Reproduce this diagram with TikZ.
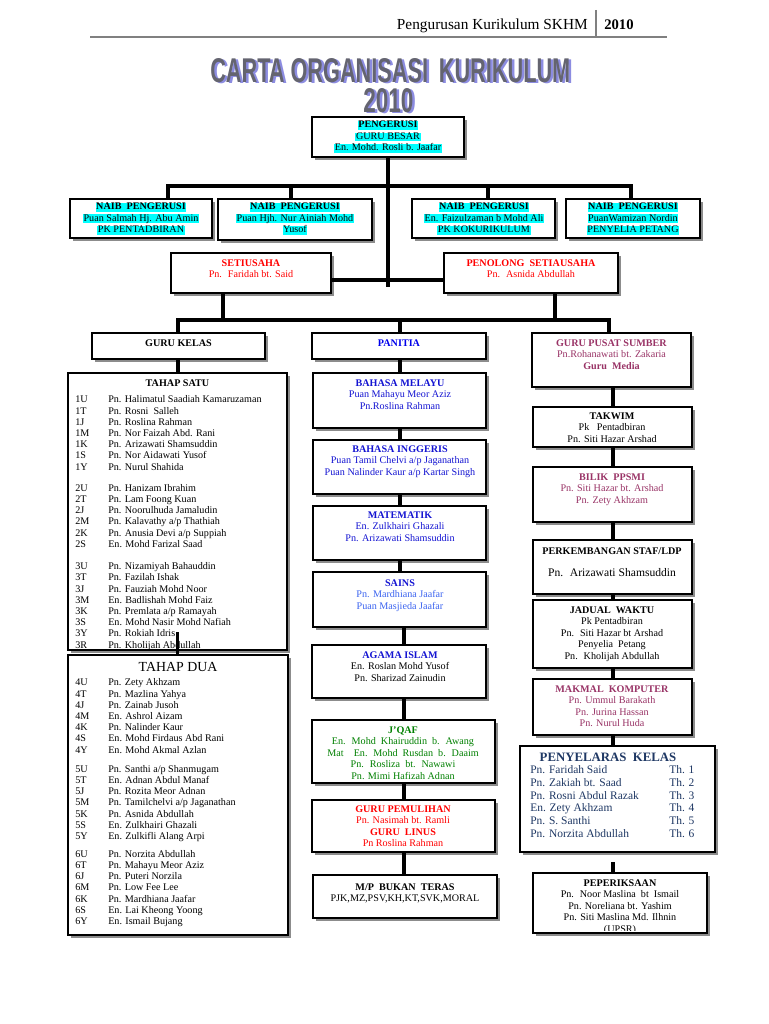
\documentclass[tikz,border=0pt]{standalone}
\usepackage{fontspec}
\setmainfont{Liberation Serif}
\newfontfamily\sansf{Liberation Sans}
\usetikzlibrary{shadows}
\definecolor{hlcyan}{RGB}{0,255,255}
\definecolor{sred}{RGB}{255,0,0}
\definecolor{pblue}{RGB}{0,0,235}
\definecolor{nblue}{RGB}{20,20,210}
\definecolor{lblue}{RGB}{60,100,240}
\definecolor{maroon}{RGB}{153,51,102}
\definecolor{jgreen}{RGB}{0,128,0}
\definecolor{navy}{RGB}{31,56,100}
\definecolor{hdrgrey}{RGB}{128,128,128}
\definecolor{ttlgrey}{RGB}{100,100,112}
\definecolor{ttlshadow}{RGB}{140,140,225}
\setlength{\fboxsep}{0pt}
\newcommand{\hl}[1]{\colorbox{hlcyan}{\rule[-1.6pt]{0pt}{6.4pt}\kern0.5pt#1\kern0.5pt}}
\newcommand{\cls}[2]{\makebox[24.75pt][l]{#1}#2}
\newcommand{\tk}[2]{\makebox[104.25pt][l]{#1}#2}
\newcommand{\wordart}[3]{\rlap{\kern1.9pt\raisebox{-1.1pt}{\textcolor{ttlshadow}{\resizebox{#1}{#2}{\sansf\bfseries #3}}}}\textcolor{ttlgrey}{\resizebox{#1}{#2}{\sansf\bfseries #3}}}
\newcommand{\obox}[5]{\node[box, minimum width={(#4-#2)*0.75pt}, minimum height={(#5-#3)*0.75pt}] (#1) at (#2,#3) {};}
\tikzset{
  box/.style={draw=black, line width=0.8pt, fill=white, inner sep=0pt, outer sep=0pt, anchor=north west,
    drop shadow={shadow xshift=2pt, shadow yshift=-2pt, fill=black!45, opacity=1}},
  txt/.style={inner sep=0pt, align=center, anchor=north, font=\fontsize{7.6}{8.6}\selectfont},
  rows/.style={inner sep=0pt, align=left, anchor=north west, font=\fontsize{7.6}{8.4}\selectfont},
  conn/.style={draw=black, line width=2.4pt, line join=miter},
}
\begin{document}
\begin{tikzpicture}[x=0.75pt, y=-0.75pt]
\useasboundingbox (0,0) rectangle (768,1024);
\fill[white] (0,0) rectangle (768,1024);

% header
\node[anchor=base east, inner sep=0pt, font=\fontsize{11.5}{13}\selectfont] (hdr) at (588,30) {Pengurusan Kurikulum SKHM};
\node[anchor=base west, inner sep=0pt, font=\fontsize{11}{13}\selectfont\bfseries] (hdryear) at (604,30) {2010};
\coordinate (hbarT) at (596,10); \coordinate (hbarB) at (596,37);
\draw[hdrgrey, line width=1.5pt] (hbarT) -- (hbarB);
\coordinate (hlL) at (90,37); \coordinate (hlR) at (667,37);
\draw[hdrgrey, line width=2pt] (hlL) -- (hlR);

% title
\node[inner sep=0pt, anchor=base west] (ttl) at (210,82) {\wordart{270pt}{18pt}{CARTA ORGANISASI\hspace{0.5em}KURIKULUM}};
\node[inner sep=0pt, anchor=base west] (yr) at (363,112) {\wordart{37.5pt}{18pt}{2010}};

% top
\obox{peng}{312}{117}{464}{157}
\node[txt] (pengt) at (388,120.8) {\hl{\textbf{PENGERUSI}}\\\hl{GURU BESAR}\\\hl{En. Mohd. Rosli b. Jaafar}};

\obox{naib1}{70}{199}{212}{238}
\node[txt] (naib1t) at (141,202.8) {\hl{\textbf{NAIB~ PENGERUSI}}\\\hl{Puan Salmah Hj. Abu Amin}\\\hl{PK PENTADBIRAN}};
\obox{naib2}{218}{199}{372}{240}
\node[txt] (naib2t) at (295,202.8) {\hl{\textbf{NAIB~ PENGERUSI}}\\\hl{Puan Hjh. Nur Ainiah Mohd}\\\hl{Yusof}};
\obox{naib3}{412}{199}{555}{238}
\node[txt] (naib3t) at (484,202.8) {\hl{\textbf{NAIB~ PENGERUSI}}\\\hl{En. Faizulzaman b Mohd Ali}\\\hl{PK KOKURIKULUM}};
\obox{naib4}{566}{199}{700}{238}
\node[txt] (naib4t) at (633,202.8) {\hl{\textbf{NAIB~ PENGERUSI}}\\\hl{PuanWamizan Nordin}\\\hl{PENYELIA PETANG}};

\obox{setia}{171}{253}{331}{293}
\node[txt, text=sred] (setiat) at (251,259.5) {\textbf{SETIUSAHA}\\Pn.~ Faridah bt. Said};
\obox{penol}{444}{253}{618}{293}
\node[txt, text=sred] (penolt) at (531,259.5) {\textbf{PENOLONG~ SETIAUSAHA}\\Pn.~ Asnida Abdullah};

\obox{gk}{92}{333}{265}{359}
\node[txt] (gkt) at (178.5,339.5) {\textbf{GURU KELAS}};
\obox{pan}{312}{333}{486}{359}
\node[txt, text=pblue] (pant) at (399,339.5) {\textbf{PANITIA}};
\obox{pusat}{532}{333}{691}{387}
\node[txt, text=maroon] (pusatt) at (611.5,339.5) {\textbf{GURU PUSAT SUMBER}\\Pn.Rohanawati bt. Zakaria\\\textbf{Guru~ Media}};

% left column
\obox{satu}{68}{373}{287}{650}
\node[txt] (satut) at (177.5,379.5) {\textbf{TAHAP SATU}};
\node[rows] (satul) at (75,395.5) {%
\cls{1U}{Pn. Halimatul Saadiah Kamaruzaman}\\
\cls{1T}{Pn. Rosni~ Salleh}\\
\cls{1J}{Pn. Roslina Rahman}\\
\cls{1M}{Pn. Nor Faizah Abd. Rani}\\
\cls{1K}{Pn. Arizawati Shamsuddin}\\
\cls{1S}{Pn. Nor Aidawati Yusof}\\
\cls{1Y}{Pn. Nurul Shahida}\\[7.5pt]
\cls{2U}{Pn. Hanizam Ibrahim}\\
\cls{2T}{Pn. Lam Foong Kuan}\\
\cls{2J}{Pn. Noorulhuda Jamaludin}\\
\cls{2M}{Pn. Kalavathy a/p Thathiah}\\
\cls{2K}{Pn. Anusia Devi a/p Suppiah}\\
\cls{2S}{En. Mohd Farizal Saad}\\[8.5pt]
\cls{3U}{Pn. Nizamiyah Bahauddin}\\
\cls{3T}{Pn. Fazilah Ishak}\\
\cls{3J}{Pn. Fauziah Mohd Noor}\\
\cls{3M}{En. Badlishah Mohd Faiz}\\
\cls{3K}{Pn. Premlata a/p Ramayah}\\
\cls{3S}{En. Mohd Nasir Mohd Nafiah}\\
\cls{3Y}{Pn. Rokiah Idris}\\
\cls{3R}{Pn. Kholijah Abdullah}};

\obox{dua}{68}{655}{288}{935}
\node[txt, font=\fontsize{10.4}{12}\selectfont] (duat) at (178,662.4) {TAHAP DUA};
\node[rows] (dual) at (75,678.5) {%
\cls{4U}{Pn. Zety Akhzam}\\
\cls{4T}{Pn. Mazlina Yahya}\\
\cls{4J}{Pn. Zainab Jusoh}\\
\cls{4M}{En. Ashrol Aizam}\\
\cls{4K}{Pn. Nalinder Kaur}\\
\cls{4S}{En. Mohd Firdaus Abd Rani}\\
\cls{4Y}{En. Mohd Akmal Azlan}\\[6pt]
\cls{5U}{Pn. Santhi a/p Shanmugam}\\
\cls{5T}{En. Adnan Abdul Manaf}\\
\cls{5J}{Pn. Rozita Meor Adnan}\\
\cls{5M}{Pn. Tamilchelvi a/p Jaganathan}\\
\cls{5K}{Pn. Asnida Abdullah}\\
\cls{5S}{En. Zulkhairi Ghazali}\\
\cls{5Y}{En. Zulkifli Alang Arpi}\\[5pt]
\cls{6U}{Pn. Norzita Abdullah}\\
\cls{6T}{Pn. Mahayu Meor Aziz}\\
\cls{6J}{Pn. Puteri Norzila}\\
\cls{6M}{Pn. Low Fee Lee}\\
\cls{6K}{Pn. Mardhiana Jaafar}\\
\cls{6S}{En. Lai Kheong Yoong}\\
\cls{6Y}{En. Ismail Bujang}};

% middle column
\obox{bm}{313}{373}{486}{428}
\node[txt, text=nblue] (bmt) at (400,379.5) {\textbf{BAHASA MELAYU}\\Puan Mahayu Meor Aziz\\Pn.Roslina Rahman};
\obox{bi}{313}{440}{486}{494}
\node[txt, text=nblue] (bit) at (400,445.5) {\textbf{BAHASA INGGERIS}\\Puan Tamil Chelvi a/p Jaganathan\\Puan Nalinder Kaur a/p Kartar Singh};
\obox{mt}{313}{506}{486}{560}
\node[txt, text=nblue] (mtt) at (400,511.5) {\textbf{MATEMATIK}\\En. Zulkhairi Ghazali\\Pn. Arizawati Shamsuddin};
\obox{sains}{313}{572}{486}{627}
\node[txt, text=lblue] (sainst) at (400,579.5) {\textcolor{nblue}{\textbf{SAINS}}\\Pn. Mardhiana Jaafar\\Puan Masjieda Jaafar};
\obox{agama}{312}{645}{486}{698}
\node[txt] (agamat) at (400,651.5) {\textcolor{nblue}{\textbf{AGAMA ISLAM}}\\En. Roslan Mohd Yusof\\Pn. Sharizad Zainudin};
\obox{jqaf}{312}{720}{495}{783}
\node[txt, text=jgreen] (jqaft) at (403,726.5) {\textbf{J'QAF}\\En.~ Mohd~ Khairuddin~ b.~ Awang\\Mat~~~ En.~ Mohd~ Rusdan~ b.~ Daaim\\Pn.~ Rosliza~ bt.~ Nawawi\\Pn. Mimi Hafizah Adnan};
\obox{pem}{312}{800}{495}{852}
\node[txt, text=sred] (pemt) at (403,805.5) {\textbf{GURU PEMULIHAN}\\Pn. Nasimah bt. Ramli\\\textbf{GURU~ LINUS}\\Pn Roslina Rahman};
\obox{mp}{313}{875}{497}{918}
\node[txt] (mpt) at (405,883.5) {\textbf{M/P~ BUKAN~ TERAS}\\PJK,MZ,PSV,KH,KT,SVK,MORAL};

% right column
\obox{takwim}{533}{407}{692}{447}
\node[txt] (takwimt) at (612,412.5) {\textbf{TAKWIM}\\Pk~~ Pentadbiran\\Pn. Siti Hazar Arshad};
\obox{ppsmi}{533}{467}{692}{522}
\node[txt, text=maroon] (ppsmit) at (612,473.5) {\textbf{BILIK~ PPSMI}\\Pn. Siti Hazar bt. Arshad\\Pn. Zety Akhzam};
\obox{perk}{533}{540}{692}{594}
\node[txt] (perkt) at (612,547.5) {\textbf{PERKEMBANGAN STAF/LDP}};
\node[txt, anchor=center, font=\fontsize{8.7}{10}\selectfont] (perkn) at (612,573) {Pn.~ Arizawati Shamsuddin};
\obox{jadual}{533}{600}{692}{668}
\node[txt] (jadualt) at (612,606.5) {\textbf{JADUAL~ WAKTU}\\Pk Pentadbiran\\Pn.~ Siti Hazar bt Arshad\\Penyelia~ Petang\\Pn.~ Kholijah Abdullah};
\obox{makmal}{533}{679}{692}{735}
\node[txt, text=maroon] (makmalt) at (612,685.5) {\textbf{MAKMAL~ KOMPUTER}\\Pn. Ummul Barakath\\Pn. Jurina Hassan\\Pn. Nurul Huda};
\obox{pk}{520}{746}{715}{852}
\node[txt, text=navy, font=\fontsize{9.6}{11}\selectfont] (pkt) at (608,752.8) {\textbf{PENYELARAS~ KELAS}};
\node[rows, text=navy, font=\fontsize{8.6}{9.6}\selectfont] (pkl) at (530,765.2) {%
\tk{Pn. Faridah Said}{Th. 1}\\
\tk{Pn. Zakiah bt. Saad}{Th. 2}\\
\tk{Pn. Rosni Abdul Razak}{Th. 3}\\
\tk{En. Zety Akhzam}{Th. 4}\\
\tk{Pn. S. Santhi}{Th. 5}\\
\tk{Pn. Norzita Abdullah}{Th. 6}};
\obox{exam}{533}{873}{707}{933}
\begin{scope}
\clip (533,873) rectangle (707,930);
\node[txt] (examt) at (620,879.5) {\textbf{PEPERIKSAAN}\\Pn.~ Noor Maslina~ bt~ Ismail\\Pn. Noreliana bt. Yashim\\Pn. Siti Maslina Md. Ilhnin\\(UPSR)};
\end{scope}

% connectors
\coordinate (trunk) at (388,287);
\draw[conn] (peng.south) -- (trunk);
\coordinate (nb1) at (168,186); \coordinate (nb2) at (291,186);
\coordinate (nb3) at (488,186); \coordinate (nb4) at (631,186);
\draw[conn] (nb1 |- naib1.north) -- (nb1) -- (nb4) -- (nb4 |- naib4.north);
\draw[conn] (nb2) -- (nb2 |- naib2.north);
\draw[conn] (nb3) -- (nb3 |- naib3.north);
\coordinate (sp) at (388,280);
\draw[conn] (setia.east |- sp) -- (penol.west |- sp);
\coordinate (b2L) at (178,320); \coordinate (b2R) at (609,320);
\coordinate (b2M) at (400,320);
\coordinate (s2a) at (223,320); \coordinate (s2b) at (555,320);
\draw[conn] (b2L |- gk.north) -- (b2L) -- (b2R) -- (b2R |- pusat.north);
\draw[conn] (b2M) -- (b2M |- pan.north);
\draw[conn] (s2a |- setia.south) -- (s2a);
\draw[conn] (s2b |- penol.south) -- (s2b);
\draw[conn] (b2L |- gk.south) -- (b2L |- satu.north);
\coordinate (tdtop) at ([yshift=13.5pt]satu.south);
\draw[conn] (tdtop) -- (tdtop |- dua.north);
\coordinate (mx) at (400,0); \coordinate (mx2) at (404,0);
\draw[conn] (mx |- pan.south) -- (mx |- bm.north);
\draw[conn] (mx |- bm.south) -- (mx |- bi.north);
\draw[conn] (mx |- bi.south) -- (mx |- mt.north);
\draw[conn] (mx |- mt.south) -- (mx |- sains.north);
\draw[conn] (mx2 |- sains.south) -- (mx2 |- agama.north);
\draw[conn] (mx2 |- agama.south) -- (mx2 |- jqaf.north);
\draw[conn] (mx2 |- jqaf.south) -- (mx2 |- pem.north);
\draw[conn] (mx2 |- pem.south) -- (mx2 |- mp.north);
\coordinate (rx) at (613,0);
\draw[conn] (rx |- pusat.south) -- (rx |- takwim.north);
\draw[conn] (rx |- takwim.south) -- (rx |- ppsmi.north);
\draw[conn] (rx |- ppsmi.south) -- (rx |- perk.north);
\draw[conn] (rx |- perk.south) -- (rx |- jadual.north);
\draw[conn] (rx |- jadual.south) -- (rx |- makmal.north);
\draw[conn] (rx |- makmal.south) -- (rx |- pk.north);
\coordinate (pkgap) at ([yshift=-7.5pt]pk.south);
\draw[conn] (rx |- pkgap) -- (rx |- exam.north);
\end{tikzpicture}
\end{document}
